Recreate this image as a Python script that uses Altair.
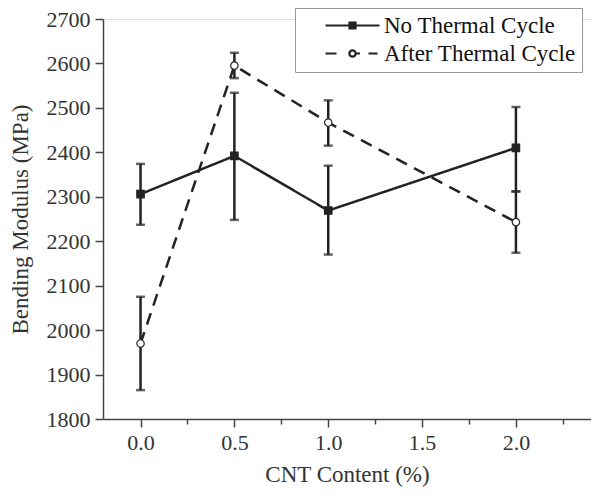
import altair as alt
import pandas as pd

# ---- data ----
cnt = [0.0, 0.5, 1.0, 2.0]
no_cycle = [2306, 2392, 2269, 2410]
no_cycle_lo = [2237, 2248, 2170, 2312]
no_cycle_hi = [2374, 2534, 2370, 2502]
after_cycle = [1970, 2595, 2467, 2243]
after_cycle_lo = [1865, 2567, 2415, 2174]
after_cycle_hi = [2075, 2624, 2517, 2312]
series_names = ["No Thermal Cycle", "After Thermal Cycle"]

rows = []
for i, x in enumerate(cnt):
    rows.append(dict(x=x, v=no_cycle[i], lo=no_cycle_lo[i], hi=no_cycle_hi[i], s=series_names[0]))
for i, x in enumerate(cnt):
    rows.append(dict(x=x, v=after_cycle[i], lo=after_cycle_lo[i], hi=after_cycle_hi[i], s=series_names[1]))
df = pd.DataFrame(rows)

FONT = "Liberation Serif"
INK = "#222222"

xs = alt.Scale(domain=[-0.2, 2.4], nice=False, zero=False)
ys = alt.Scale(domain=[1800, 2700], nice=False, zero=False)

x_ticks = [round(0.25 * k, 2) for k in range(0, 10)]
y_ticks = list(range(1800, 2701, 50))

x_axis = alt.Axis(
    title="CNT Content (%)", values=x_ticks, format=".1f",
    labelExpr="abs(round(datum.value*2) - datum.value*2) < 0.001 ? format(datum.value, '.1f') : ''",
    tickSize={"condition": {"test": "abs(round(datum.value*2) - datum.value*2) < 0.001", "value": 8}, "value": 5},
    grid=False, domainColor="#444", domainWidth=1.5, tickColor="#444", tickWidth=1.5,
    labelFont=FONT, labelFontSize=22, labelColor="#333", labelPadding=5,
    titleFont=FONT, titleFontSize=23, titleFontWeight="normal", titleColor="#333", titlePadding=10,
)
y_axis = alt.Axis(
    title="Bending Modulus (MPa)", values=y_ticks,
    labelExpr="datum.value % 100 == 0 ? datum.value : ''",
    tickSize={"condition": {"test": "datum.value % 100 == 0", "value": 8}, "value": 5},
    grid=False, domainColor="#444", domainWidth=1.5, tickColor="#444", tickWidth=1.5,
    labelFont=FONT, labelFontSize=22, labelColor="#333", labelPadding=5,
    titleFont=FONT, titleFontSize=23, titleFontWeight="normal", titleColor="#333", titlePadding=14,
)

base = alt.Chart(df)

def series_layers(name, dash, shape, fill):
    d = base.transform_filter(alt.datum.s == name)
    line = d.mark_line(color=INK, strokeWidth=2.5, strokeDash=dash).encode(
        x=alt.X("x:Q", scale=xs, axis=x_axis), y=alt.Y("v:Q", scale=ys, axis=y_axis))
    rule = d.mark_rule(color=INK, strokeWidth=2.5).encode(
        x="x:Q", y="lo:Q", y2="hi:Q")
    cap_lo = d.mark_tick(color=INK, thickness=2.5, size=9, orient="horizontal").encode(x="x:Q", y="lo:Q")
    cap_hi = d.mark_tick(color=INK, thickness=2.5, size=9, orient="horizontal").encode(x="x:Q", y="hi:Q")
    pts = d.mark_point(shape=shape, filled=True, fill=fill, stroke=INK, strokeWidth=1.2, size=55, opacity=1).encode(
        x="x:Q", y="v:Q")
    return [line, rule, cap_lo, cap_hi, pts]

# custom legend symbols (unit = 10 px): line with marker in the middle
sym_solid = "M-2.7,0H-0.3M0.3,0H2.7M-0.3,-0.3H0.3V0.3H-0.3Z"
sym_dash = ("M-2.7,0H-1.6M0.32,0H0.75M1.6,0H2.5"
            "M0.32,0A0.32,0.32 0 1,1 -0.32,0A0.32,0.32 0 1,1 0.32,0Z")

legend = alt.Legend(title=None, orient="none", legendX=192, legendY=-11,
                    symbolSize=400, symbolOpacity=1, symbolStrokeWidth=2.2,
                    symbolOffset=40,
                    labelFont=FONT, labelFontSize=23, labelColor="#111",
                    labelOffset=20, padding=6, rowPadding=4,
                    strokeColor="#999", fillColor="white", labelLimit=400)

# legend-only layer: no rows reach the plot, the legend comes from the explicit scale domains
ghost = base.transform_filter("false").mark_point(strokeWidth=2.2, opacity=1).encode(
    x="x:Q", y="v:Q",
    shape=alt.Shape("s:N", scale=alt.Scale(domain=series_names, range=[sym_solid, sym_dash]), legend=legend),
    fill=alt.Fill("s:N", scale=alt.Scale(domain=series_names, range=[INK, "white"]), legend=legend),
    stroke=alt.Stroke("s:N", scale=alt.Scale(domain=series_names, range=[INK, INK]), legend=legend),
)

layers = series_layers(series_names[0], [1, 0], "square", INK) + \
         series_layers(series_names[1], [12, 8], "circle", "white") + [ghost]

chart = alt.layer(*layers).properties(
    width=488, height=400,
    padding={"left": 95, "top": 11, "right": 0, "bottom": 69},
    autosize=alt.AutoSizeParams(type="none"),
).configure_view(stroke=None).configure(background="white")

chart.save("out.html", embed_options={"renderer": "svg", "actions": False})
